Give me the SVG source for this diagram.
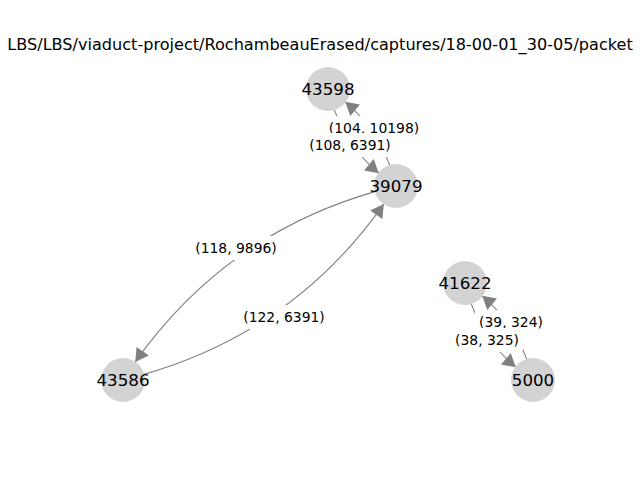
<svg xmlns="http://www.w3.org/2000/svg" width="640" height="480" viewBox="0 0 640 480">
<style>
.edge{fill:none;stroke:#808080;stroke-width:1.1;marker-end:url(#ah)}
.node circle{fill:#d3d3d3}
.node text{font-family:"DejaVu Sans",sans-serif;font-size:16.67px;fill:#000;text-anchor:middle}
.lbl rect{fill:#fff}
.lbl text{font-family:"DejaVu Sans",sans-serif;font-size:13.9px;fill:#000;text-anchor:middle}
.title{font-family:"DejaVu Sans",sans-serif;font-size:16.1px;fill:#000;text-anchor:middle}
</style>
<defs>
<marker id="ah" markerUnits="userSpaceOnUse" markerWidth="16" markerHeight="18" viewBox="-15 -9 16 18" refX="0" refY="0" orient="auto">
<path d="M-13,-7.5 L0,0 L-13,7.5 z" fill="#808080"/>
</marker>
</defs>
<rect width="640" height="480" fill="#fff"/>
<text class="title" x="320" y="49.5">LBS/LBS/viaduct-project/RochambeauErased/captures/18-00-01_30-05/packet</text>
<g id="edges">
<path class="edge" d="M334.2,109.6 Q348.1,147.2 378.8,173.2"/>
<path class="edge" d="M389.8,165.4 Q375.9,127.8 345.2,101.8"/>
<path class="edge" d="M471.2,303.6 Q485.1,341.2 515.8,367.2"/>
<path class="edge" d="M526.8,359.4 Q512.9,321.8 482.2,295.8"/>
<path class="edge" d="M374.9,191.6 Q225.2,234.7 135.2,361.9"/>
<path class="edge" d="M144.1,374.4 Q293.9,331.3 383.8,204.1"/>
</g>
<g id="edge-labels">
<g class="lbl"><rect x="325" y="116" width="98" height="24" rx="4"/><text x="374" y="133">(104, 10198)</text></g>
<g class="lbl"><rect x="305" y="133" width="90" height="24" rx="4"/><text x="350" y="150">(108, 6391)</text></g>
<g class="lbl"><rect x="191" y="236" width="90" height="24" rx="4"/><text x="236" y="253">(118, 9896)</text></g>
<g class="lbl"><rect x="239" y="305" width="90" height="24" rx="4"/><text x="284" y="322">(122, 6391)</text></g>
<g class="lbl"><rect x="475" y="310" width="72" height="24" rx="4"/><text x="511" y="327">(39, 324)</text></g>
<g class="lbl"><rect x="451" y="328" width="72" height="24" rx="4"/><text x="487" y="345">(38, 325)</text></g>
</g>
<g id="node-43598" class="node"><circle cx="328" cy="89" r="22"/><text x="328" y="95">43598</text></g>
<g id="node-39079" class="node"><circle cx="396" cy="186" r="22"/><text x="396" y="192">39079</text></g>
<g id="node-43586" class="node"><circle cx="123" cy="380" r="22"/><text x="123" y="386">43586</text></g>
<g id="node-41622" class="node"><circle cx="465" cy="283" r="22"/><text x="465" y="289">41622</text></g>
<g id="node-5000" class="node"><circle cx="533" cy="380" r="22"/><text x="533" y="386">5000</text></g>
</svg>
